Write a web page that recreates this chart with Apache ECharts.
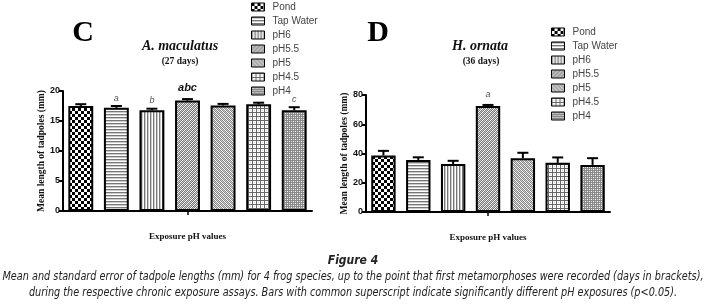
<!DOCTYPE html>
<html>
<head>
<meta charset="utf-8">
<script src="https://cdn.jsdelivr.net/npm/echarts@6/dist/echarts.min.js"></script>
<style>
  html, body { margin: 0; padding: 0; background: #fff; }
  #chart { width: 706px; height: 306px; }
</style>
</head>
<body>
<div id="chart"></div>
<script>
// data
var categories = ['Pond', 'Tap Water', 'pH6', 'pH5.5', 'pH5', 'pH4.5', 'pH4'];
var cMeans = [17.5, 17.2, 16.8, 18.4, 17.6, 17.8, 16.8];
var cErrs = [0.3, 0.3, 0.25, 0.25, 0.25, 0.25, 0.5];
var cSig = ['', 'a', 'b', 'abc', '', '', 'c'];
var dMeans = [38.6, 35.6, 32.8, 72.4, 36.8, 33.6, 32.2];
var dErrs = [3.2, 1.8, 2.2, 0.8, 3.7, 3.7, 4.6];
var dSig = ['', '', '', 'a', '', '', ''];
var caption1 = 'Mean and standard error of tadpole lengths (mm) for 4 frog species, up to the point that first metamorphoses were recorded (days in brackets),';
var caption2 = 'during the respective chronic exposure assays. Bars with common superscript indicate significantly different pH exposures (p<0.05).';

// fill patterns
function makePattern(w, h, draw) {
  var cv = document.createElement('canvas');
  cv.width = w; cv.height = h;
  var ctx = cv.getContext('2d');
  ctx.fillStyle = '#fff';
  ctx.fillRect(0, 0, w, h);
  draw(ctx);
  return { image: cv, repeat: 'repeat' };
}
var patterns = [
  makePattern(6, 6, function (c) { c.fillStyle = '#000'; c.fillRect(0, 0, 3, 3); c.fillRect(3, 3, 3, 3); }),
  makePattern(1, 3, function (c) { c.fillStyle = '#777'; c.fillRect(0, 0, 1, 1); c.fillStyle = '#ccc'; c.fillRect(0, 1, 1, 1); }),
  makePattern(3, 1, function (c) { c.fillStyle = '#777'; c.fillRect(0, 0, 1, 1); c.fillStyle = '#ccc'; c.fillRect(1, 0, 1, 1); }),
  makePattern(4, 4, function (c) { c.fillStyle = '#777'; for (var i = 0; i < 4; i++) { c.fillRect(i, 3 - i, 1, 1); c.fillRect((i + 2) % 4, 3 - i, 1, 1); } c.fillStyle = '#ccc'; for (var j = 0; j < 4; j++) c.fillRect((j + 1) % 4, 3 - j, 1, 1); }),
  makePattern(4, 4, function (c) { c.fillStyle = '#888'; for (var i = 0; i < 4; i++) { c.fillRect(i, i, 1, 1); c.fillRect((i + 2) % 4, i, 1, 1); } c.fillStyle = '#ccc'; for (var j = 0; j < 4; j++) c.fillRect((j + 1) % 4, j, 1, 1); }),
  makePattern(4, 4, function (c) { c.fillStyle = '#666'; c.fillRect(0, 0, 4, 1); c.fillRect(0, 0, 1, 4); c.fillStyle = '#ccc'; c.fillRect(2, 2, 1, 1); }),
  makePattern(4, 4, function (c) { c.fillStyle = '#888'; c.fillRect(0, 0, 4, 4); c.fillStyle = '#fff'; c.fillRect(1, 1, 1, 1); c.fillRect(3, 3, 1, 1); c.fillStyle = '#ddd'; c.fillRect(3, 1, 1, 1); c.fillRect(1, 3, 1, 1); })
];

var serif = '"Liberation Serif", "DejaVu Serif", serif';
var sans = '"Liberation Sans", Arial, sans-serif';
var narrow = '"Liberation Sans Narrow", "DejaVu Sans Condensed", sans-serif';

function barSeries(means, gridIdx) {
  return categories.map(function (name, i) {
    var data = means.map(function (v, j) { return j === i ? v : '-'; });
    return {
      name: name,
      type: 'bar',
      xAxisIndex: gridIdx,
      yAxisIndex: gridIdx,
      barWidth: '70%',
      barGap: '-100%',
      data: data,
      itemStyle: { color: patterns[i], borderColor: '#000', borderWidth: 2 },
      emphasis: { disabled: true }
    };
  });
}

function errSeries(means, errs, sig, gridIdx, offs) {
  return {
    type: 'custom',
    xAxisIndex: gridIdx,
    yAxisIndex: gridIdx,
    data: means.map(function (m, i) { return [i, m, errs[i]]; }),
    encode: { x: 0, y: 1 },
    z: 5,
    renderItem: function (params, api) {
      var x = api.value(0), m = api.value(1), e = api.value(2);
      var p0 = api.coord([x, m]);
      var p1 = api.coord([x, m + e]);
      var s = sig[params.dataIndex];
      var big = s.length > 1;
      return {
        type: 'group',
        children: [
          { type: 'line', shape: { x1: p0[0], y1: p0[1], x2: p1[0], y2: p1[1] }, style: { stroke: '#000', lineWidth: 2 } },
          { type: 'line', shape: { x1: p1[0] - 5.5, y1: p1[1], x2: p1[0] + 5.5, y2: p1[1] }, style: { stroke: '#000', lineWidth: 2 } },
          { type: 'text', x: p1[0], y: p1[1] - (big ? 11 : offs),
            style: { text: s, fill: big ? '#111' : '#555', textAlign: 'center', textVerticalAlign: 'middle',
              font: (big ? 'italic bold 11px ' : 'italic 9px ') + sans } }
        ]
      };
    }
  };
}

function yAxisCfg(gridIdx, max, interval) {
  return {
    gridIndex: gridIdx,
    type: 'value',
    min: 0, max: max, interval: interval,
    name: 'Mean length of tadpoles (mm)',
    nameLocation: 'middle',
    nameGap: 15,
    nameTextStyle: { fontFamily: serif, fontWeight: 'bold', fontSize: 9.5, color: '#111' },
    axisLine: { show: true, lineStyle: { color: '#000', width: 2 } },
    axisTick: { show: true, length: 4, lineStyle: { color: '#000', width: 2 } },
    axisLabel: { fontFamily: sans, fontWeight: 'bold', fontSize: 9, color: '#111', margin: 3 },
    splitLine: { show: false }
  };
}

function xAxisCfg(gridIdx) {
  return {
    gridIndex: gridIdx,
    type: 'category',
    data: categories,
    name: 'Exposure pH values',
    nameLocation: 'middle',
    nameGap: 21,
    nameTextStyle: { fontFamily: serif, fontWeight: 'bold', fontSize: 9, color: '#111' },
    axisLine: { lineStyle: { color: '#000', width: 2 } },
    axisTick: { show: true, alignWithLabel: true, length: 4, interval: function (i) { return i === 3; }, lineStyle: { color: '#000', width: 1.5 } },
    axisLabel: { show: false }
  };
}

function legendCfg(left, top) {
  return {
    orient: 'vertical',
    left: left, top: top,
    data: categories,
    itemWidth: 13, itemHeight: 8,
    itemGap: 2,
    icon: 'rect',
    selectedMode: false,
    itemStyle: { borderColor: '#000', borderWidth: 1 },
    textStyle: { fontFamily: sans, fontSize: 10, color: '#444', lineHeight: 12, padding: [0, 0, 0, 3] }
  };
}

function txt(x, y, s, font, fill) {
  return { type: 'text', x: x, y: y, style: { text: s, font: font, fill: fill || '#111', textAlign: 'center', textVerticalAlign: 'middle' } };
}

// squeeze the caption to the width it has in the figure
var capFont = 'italic 11.5px ' + narrow;
var mctx = document.createElement('canvas').getContext('2d');
mctx.font = capFont;
var capScale = 701 / mctx.measureText(caption1).width;
var cap1 = txt(353, 277, caption1, capFont, '#222');
cap1.scaleX = capScale;
var cap2 = txt(353, 293, caption2, capFont, '#222');
cap2.scaleX = capScale;

var chart = echarts.init(document.getElementById('chart'), null, { renderer: 'canvas' });
chart.setOption({
  animation: false,
  backgroundColor: '#fff',
  grid: [
    { left: 63, right: 394, top: 91, bottom: 95 },
    { left: 366, right: 96, top: 95, bottom: 94 }
  ],
  xAxis: [xAxisCfg(0), xAxisCfg(1)],
  yAxis: [yAxisCfg(0, 20, 5), yAxisCfg(1, 80, 20)],
  legend: [legendCfg(246, -4), legendCfg(546, 21)],
  series: barSeries(cMeans, 0)
    .concat(barSeries(dMeans, 1))
    .concat([errSeries(cMeans, cErrs, cSig, 0, 8), errSeries(dMeans, dErrs, dSig, 1, 10)]),
  graphic: [
    txt(83, 33, 'C', 'bold 30px ' + serif, '#000'),
    txt(378, 33, 'D', 'bold 30px ' + serif, '#000'),
    txt(180, 46, 'A. maculatus', 'italic bold 14px ' + serif),
    txt(180, 62, '(27 days)', 'bold 9.5px ' + serif),
    txt(480, 46, 'H. ornata', 'italic bold 14px ' + serif),
    txt(481, 62, '(36 days)', 'bold 9.5px ' + serif),
    txt(353, 261, 'Figure 4', 'italic bold 12px ' + narrow, '#222'),
    cap1,
    cap2
  ]
});
</script>
</body>
</html>
